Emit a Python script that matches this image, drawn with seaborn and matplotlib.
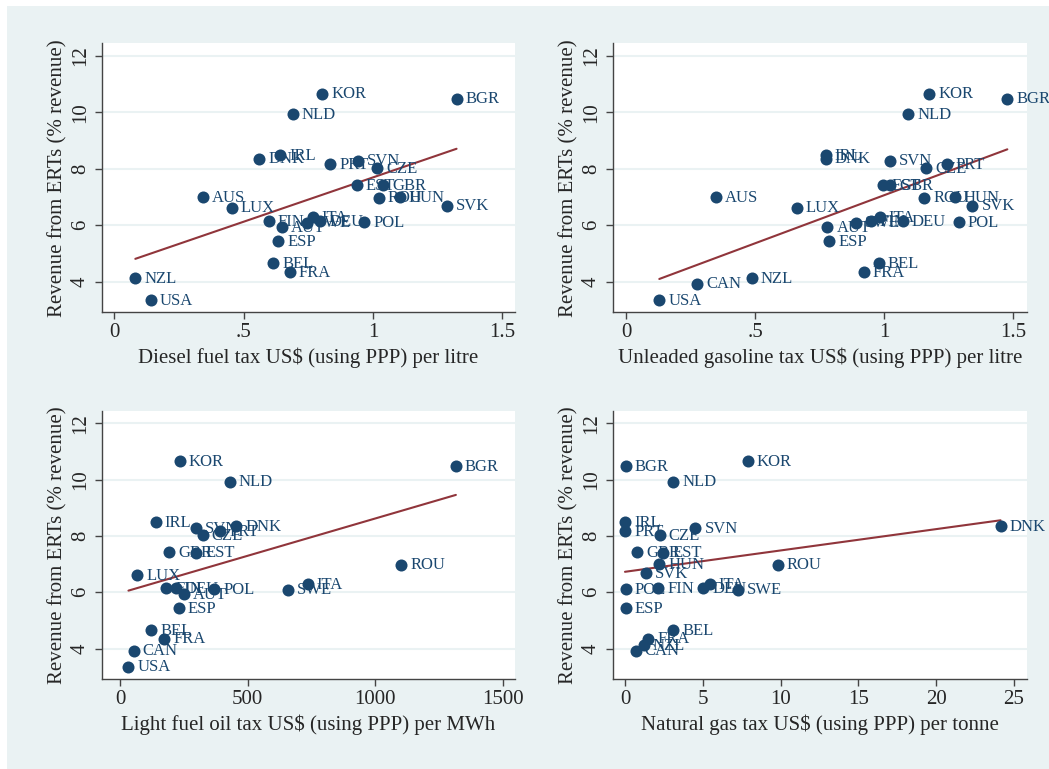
import numpy as np
import pandas as pd
import matplotlib
matplotlib.use("Agg")
import matplotlib.pyplot as plt
from matplotlib.patches import Rectangle
import seaborn as sns

countries = ["KOR", "BGR", "NLD", "IRL", "DNK", "SVN", "PRT", "CZE", "EST", "GBR",
             "ROU", "HUN", "SVK", "AUS", "LUX", "FIN", "DEU", "SWE", "ITA", "POL",
             "AUT", "ESP", "BEL", "FRA", "NZL", "CAN", "USA"]
revenue = [10.66, 10.48, 9.93, 8.49, 8.36, 8.29, 8.17, 8.02, 7.41, 7.42,
           6.98, 7.00, 6.69, 7.00, 6.62, 6.15, 6.15, 6.09, 6.28, 6.11,
           5.93, 5.44, 4.66, 4.35, 4.13, 3.93, 3.36]
nan = np.nan
diesel = [0.804, 1.323, 0.689, 0.642, 0.561, 0.941, 0.834, 1.015, 0.938, 1.039,
          1.023, 1.104, 1.285, 0.343, 0.454, 0.597, 0.795, 0.744, 0.767, 0.966,
          0.649, 0.634, 0.615, 0.678, 0.081, nan, 0.140]
gasoline = [1.174, 1.477, 1.093, 0.774, 0.773, 1.021, 1.243, 1.163, 0.994, 1.023,
            1.155, 1.273, 1.342, 0.347, 0.661, 0.948, 1.071, 0.889, 0.983, 1.289,
            0.780, 0.788, 0.978, 0.921, 0.487, 0.275, 0.129]
fuel_oil = [233, 1317, 429, 139, 455, 296, 392, 323, 299, 192,
            1102, nan, nan, nan, 66, 180, 218, 657, 736, 369,
            251, 229, 122, 173, nan, 53, 32]
nat_gas = [7.9, 0.04, 3.11, 0.0, 24.14, 4.53, 0.0, 2.23, 2.47, 0.79,
           9.81, 2.19, 1.33, nan, nan, 2.15, 5.04, 7.27, 5.45, 0.04,
           nan, 0.04, 3.09, 1.5, 1.2, 0.69, nan]

x_titles = ["Diesel fuel tax US$ (using PPP) per litre",
            "Unleaded gasoline tax US$ (using PPP) per litre",
            "Light fuel oil tax US$ (using PPP) per MWh",
            "Natural gas tax US$ (using PPP) per tonne"]
x_ticks = [[0, 0.5, 1, 1.5], [0, 0.5, 1, 1.5], [0, 500, 1000, 1500], [0, 5, 10, 15, 20, 25]]
x_ticklabels = [["0", ".5", "1", "1.5"], ["0", ".5", "1", "1.5"],
                ["0", "500", "1000", "1500"], ["0", "5", "10", "15", "20", "25"]]
x_limits = [(-0.049, 1.549), (-0.0515, 1.552), (-73, 1549), (-0.79, 25.82)]
y_ticks = [4, 6, 8, 10, 12]

navy = "#1A476F"
maroon = "#90353B"
bg = "#EAF2F3"

sns.set_style("white")
plt.rcParams["font.family"] = ["Liberation Serif", "DejaVu Serif"]

fig = plt.figure(figsize=(10.49, 7.69), dpi=100)
fig.patches.append(Rectangle((7 / 1049, 0), 1, 1 - 6 / 769, transform=fig.transFigure,
                             facecolor=bg, edgecolor="none", zorder=-10))

W, H = 1049, 769
boxes = [(101.7, 43.3, 515, 312.3), (612.7, 43.3, 1026.7, 312.3),
         (101.7, 411, 515, 679), (612.7, 411, 1026.7, 679)]
series = [diesel, gasoline, fuel_oil, nat_gas]

for i in range(4):
    l, t, r, b = boxes[i]
    ax = fig.add_axes([l / W, 1 - b / H, (r - l) / W, (b - t) / H])
    df = pd.DataFrame({"country": countries, "x": series[i], "y": revenue}).dropna()

    ax.set_facecolor("white")
    for yt in y_ticks:
        ax.axhline(yt, color=bg, linewidth=1.5, zorder=0)

    sns.regplot(data=df, x="x", y="y", scatter=False, ci=None, truncate=True,
                color=maroon, line_kws={"linewidth": 1.5}, ax=ax)
    sns.scatterplot(data=df, x="x", y="y", color=navy, s=75, linewidth=0, ax=ax, zorder=3)
    for _, row in df.iterrows():
        ax.annotate(row["country"], (row["x"], row["y"]), xytext=(6.5, -0.5),
                    textcoords="offset points", va="center", ha="left",
                    fontsize=12, color=navy, zorder=4)

    ax.set_xlim(*x_limits[i])
    ax.set_ylim(2.92, 12.44)
    ax.set_xticks(x_ticks[i])
    ax.set_xticklabels(x_ticklabels[i])
    ax.set_yticks(y_ticks)
    ax.set_yticklabels([str(v) for v in y_ticks], rotation=90, va="center")
    ax.tick_params(axis="both", direction="out", length=5, width=1, color="#444444",
                   labelsize=15, pad=3, left=True, bottom=True)
    ax.tick_params(axis="y", pad=3.5)
    ax.set_xlabel(x_titles[i], fontsize=15, labelpad=4)
    ax.set_ylabel("Revenue from ERTs (% revenue)", fontsize=15)
    ax.yaxis.set_label_coords(-0.083, 0.5)
    for side in ["top", "right"]:
        ax.spines[side].set_visible(False)
    for side in ["left", "bottom"]:
        ax.spines[side].set_color("#444444")
        ax.spines[side].set_linewidth(1)

fig.savefig("out.png", dpi=100)
